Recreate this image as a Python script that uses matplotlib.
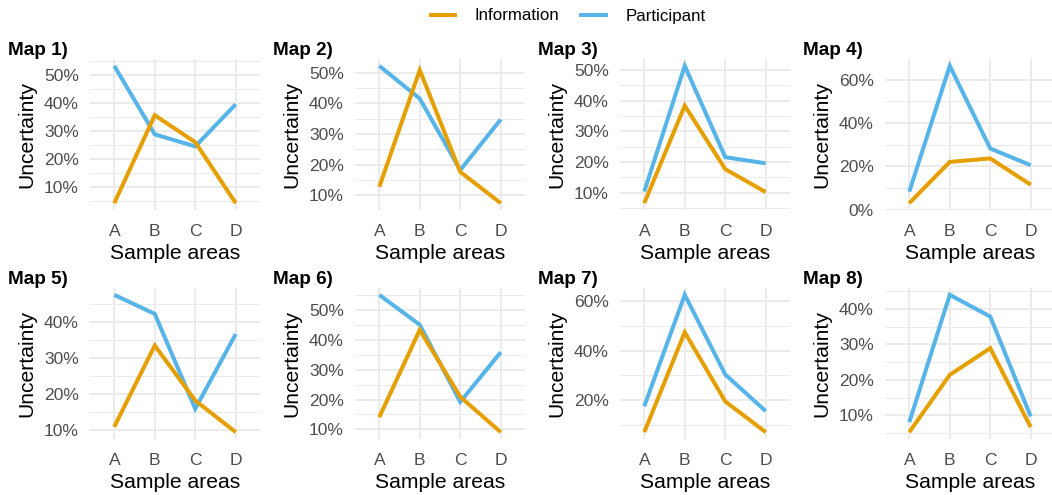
import matplotlib
matplotlib.use("Agg")
import matplotlib.pyplot as plt
from matplotlib.ticker import MultipleLocator, PercentFormatter

plt.rcParams["font.family"] = ["Liberation Sans", "DejaVu Sans"]

# Sample areas shared by every map
areas = ["A", "B", "C", "D"]
map_titles = ["Map 1)", "Map 2)", "Map 3)", "Map 4)",
              "Map 5)", "Map 6)", "Map 7)", "Map 8)"]

# Uncertainty (%) per map and sample area
information = [
    [4.4, 35.7, 26.1, 4.4],
    [12.7, 50.8, 17.6, 7.4],
    [6.6, 38.4, 17.7, 10.2],
    [3.0, 22.0, 23.6, 11.5],
    [10.9, 33.5, 18.2, 9.4],
    [14.1, 43.3, 20.9, 9.1],
    [7.3, 47.3, 19.6, 7.3],
    [5.3, 21.4, 28.9, 6.7],
]
participant = [
    [53.3, 28.9, 24.6, 39.6],
    [52.2, 41.5, 18.2, 34.7],
    [10.4, 51.4, 21.6, 19.6],
    [8.3, 66.3, 28.2, 20.5],
    [47.6, 42.3, 15.9, 36.7],
    [55.0, 45.0, 19.2, 35.8],
    [17.7, 62.3, 30.4, 15.7],
    [8.1, 43.9, 37.8, 9.7],
]
# major y tick step (percentage points) for each map
tick_steps = [10, 10, 10, 20, 10, 10, 20, 10]

COL_INFO = "#E69F00"
COL_PART = "#56B4E9"
GRID = "#EBEBEB"

W, H = 1052, 495
fig = plt.figure(figsize=(W / 100, H / 100), dpi=100)

col_left = [90, 355, 620, 885]
row_top = [59, 288]
pw, ph = 170, 151

x = list(range(len(areas)))
handles = None
for i in range(8):
    r, c = divmod(i, 4)
    left = col_left[c]
    top = row_top[r]
    ax = fig.add_axes([left / W, 1 - (top + ph) / H, pw / W, ph / H])
    ax.set_axisbelow(True)
    lp, = ax.plot(x, participant[i], color=COL_PART, lw=2.9,
                  solid_joinstyle="miter", solid_capstyle="butt", label="Participant")
    li, = ax.plot(x, information[i], color=COL_INFO, lw=2.9,
                  solid_joinstyle="miter", solid_capstyle="butt", label="Information")
    if handles is None:
        handles = [li, lp]

    ax.set_xlim(-0.6, len(areas) - 0.4)
    ax.margins(y=0.05)
    ax.set_xticks(x)
    ax.set_xticklabels(areas)
    ax.yaxis.set_major_locator(MultipleLocator(tick_steps[i]))
    ax.yaxis.set_minor_locator(MultipleLocator(tick_steps[i] / 2))
    ax.yaxis.set_major_formatter(PercentFormatter(decimals=0))

    ax.grid(which="major", axis="both", color=GRID, lw=1.4)
    ax.grid(which="minor", axis="y", color=GRID, lw=0.7)
    for s in ax.spines.values():
        s.set_visible(False)
    ax.tick_params(which="both", length=0)
    ax.tick_params(axis="y", labelsize=12.6, labelcolor="#4D4D4D", pad=8)
    ax.tick_params(axis="x", labelsize=12.6, labelcolor="#4D4D4D", pad=10)

    ax.set_xlabel("Sample areas", fontsize=15.2, labelpad=3.6)
    ax.set_ylabel("Uncertainty", fontsize=15.2, labelpad=5.8)

    fig.text((left - 82) / W, 1 - (top - 4) / H, map_titles[i],
             fontsize=13.6, fontweight="bold", ha="left", va="baseline")

fig.legend(handles=handles, labels=["Information", "Participant"],
           loc="center", bbox_to_anchor=(567 / W, 1 - 16 / H), ncol=2,
           frameon=False, fontsize=12.2, handlelength=1.7, handletextpad=1.0,
           columnspacing=1.2)

fig.savefig("out.png", dpi=100)
